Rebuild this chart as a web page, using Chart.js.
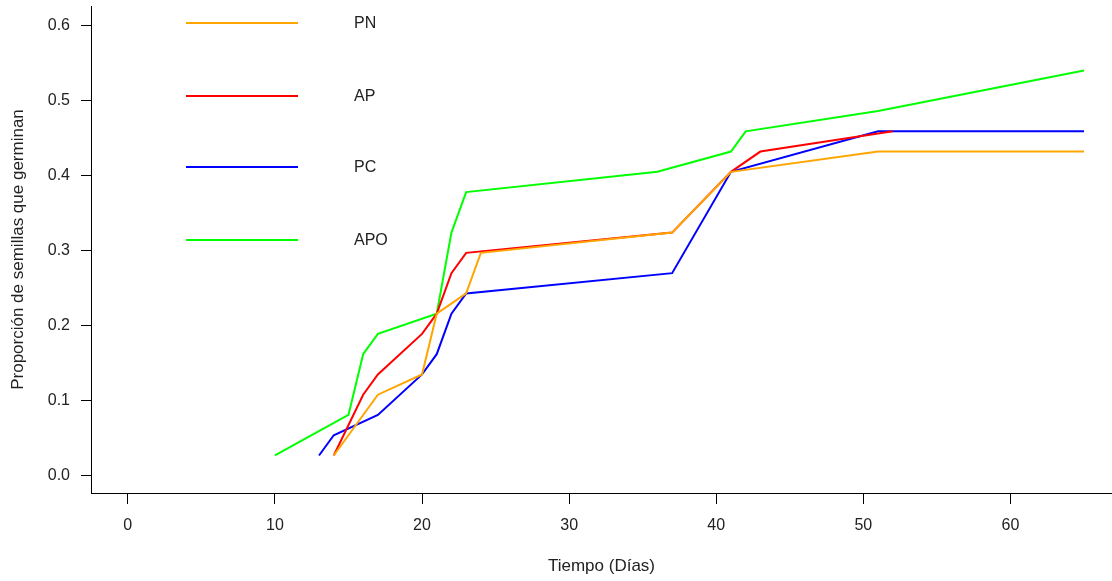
<!DOCTYPE html>
<html>
<head>
<meta charset="utf-8">
<script src="https://cdn.jsdelivr.net/npm/chart.js@4.4.0/dist/chart.umd.min.js"></script>
<style>
  html, body { margin: 0; padding: 0; background: #fff; }
  #wrap { width: 1112px; height: 581px; }
</style>
</head>
<body>
<div id="wrap"><canvas id="c" width="1112" height="581"></canvas></div>
<script>
// datos
const seriesNames = ['PN', 'AP', 'PC', 'APO'];
const seriesColors = ['#FFA500', '#FF0000', '#0000FF', '#00FF00'];

const pnDays = [14, 17, 20, 21, 23, 24, 37, 41, 51, 65];
const pnProp = [0.027, 0.108, 0.135, 0.216, 0.243, 0.297, 0.324, 0.405, 0.432, 0.432];

const apDays = [14, 16, 17, 20, 21, 22, 23, 37, 41, 43, 52];
const apProp = [0.027, 0.108, 0.135, 0.189, 0.216, 0.270, 0.297, 0.324, 0.405, 0.432, 0.459];

const pcDays = [13, 14, 17, 20, 21, 22, 23, 37, 41, 51, 65];
const pcProp = [0.027, 0.054, 0.081, 0.135, 0.162, 0.216, 0.243, 0.270, 0.405, 0.459, 0.459];

const apoDays = [10, 15, 16, 17, 21, 22, 23, 36, 41, 42, 51, 65];
const apoProp = [0.027, 0.081, 0.162, 0.189, 0.216, 0.324, 0.378, 0.405, 0.432, 0.459, 0.486, 0.540];

const xTicks = [0, 10, 20, 30, 40, 50, 60];
const yTicks = [0.0, 0.1, 0.2, 0.3, 0.4, 0.5, 0.6];

const allDays = [pnDays, apDays, pcDays, apoDays];
const allProp = [pnProp, apProp, pcProp, apoProp];

const FONT = 'Liberation Sans, Arial, sans-serif';

const datasets = seriesNames.map((name, i) => ({
    label: name,
    data: allDays[i].map((d, j) => ({ x: d, y: allProp[i][j] })),
    borderColor: seriesColors[i],
    backgroundColor: seriesColors[i],
    borderWidth: 2,
    pointRadius: 0,
    tension: 0,
    fill: false
}));

// leyenda dentro del area, estilo R
const legendInside = {
    id: 'legendInside',
    afterDraw(chart) {
        const ctx = chart.ctx;
        const rowY = [23, 96, 167, 240];
        ctx.save();
        ctx.font = '16px ' + FONT;
        ctx.textBaseline = 'middle';
        ctx.textAlign = 'left';
        seriesNames.forEach((name, i) => {
            ctx.strokeStyle = seriesColors[i];
            ctx.lineWidth = 2;
            ctx.beginPath();
            ctx.moveTo(186, rowY[i]);
            ctx.lineTo(298, rowY[i]);
            ctx.stroke();
            ctx.fillStyle = '#222';
            ctx.fillText(name, 354, rowY[i] + 1);
        });
        ctx.restore();
    }
};

new Chart(document.getElementById('c'), {
    type: 'line',
    data: { datasets: datasets },
    plugins: [legendInside],
    options: {
        responsive: false,
        animation: false,
        layout: { padding: { top: 6, right: 0, left: 0, bottom: 0 } },
        plugins: {
            legend: { display: false },
            tooltip: { enabled: false }
        },
        scales: {
            x: {
                type: 'linear',
                min: -2.5,
                max: 66.9,
                afterBuildTicks: s => { s.ticks = xTicks.map(v => ({ value: v })); },
                afterFit: s => { s.height = 88; s.paddingLeft = 0; s.paddingRight = 0; },
                grid: { drawOnChartArea: false, drawTicks: true, tickLength: 11, color: '#000', lineWidth: 1 },
                border: { display: true, color: '#000', width: 1 },
                ticks: { color: '#222', font: { family: FONT, size: 16 }, padding: 12, maxRotation: 0 },
                title: { display: true, text: 'Tiempo (Días)', color: '#222', font: { family: FONT, size: 17 }, padding: { top: 0, bottom: 4 } }
            },
            y: {
                type: 'linear',
                min: -0.023,
                max: 0.626,
                afterBuildTicks: s => { s.ticks = yTicks.map(v => ({ value: v })); },
                afterFit: s => { s.width = 91; s.paddingTop = 0; s.paddingBottom = 0; },
                grid: { drawOnChartArea: false, drawTicks: true, tickLength: 10, color: '#000', lineWidth: 1 },
                border: { display: true, color: '#000', width: 1 },
                ticks: { color: '#222', font: { family: FONT, size: 16 }, padding: 11, callback: v => v.toFixed(1) },
                title: { display: true, text: 'Proporción de semillas que germinan', color: '#222', font: { family: FONT, size: 17 }, padding: { top: 8, bottom: 0 } }
            }
        }
    }
});
</script>
</body>
</html>
